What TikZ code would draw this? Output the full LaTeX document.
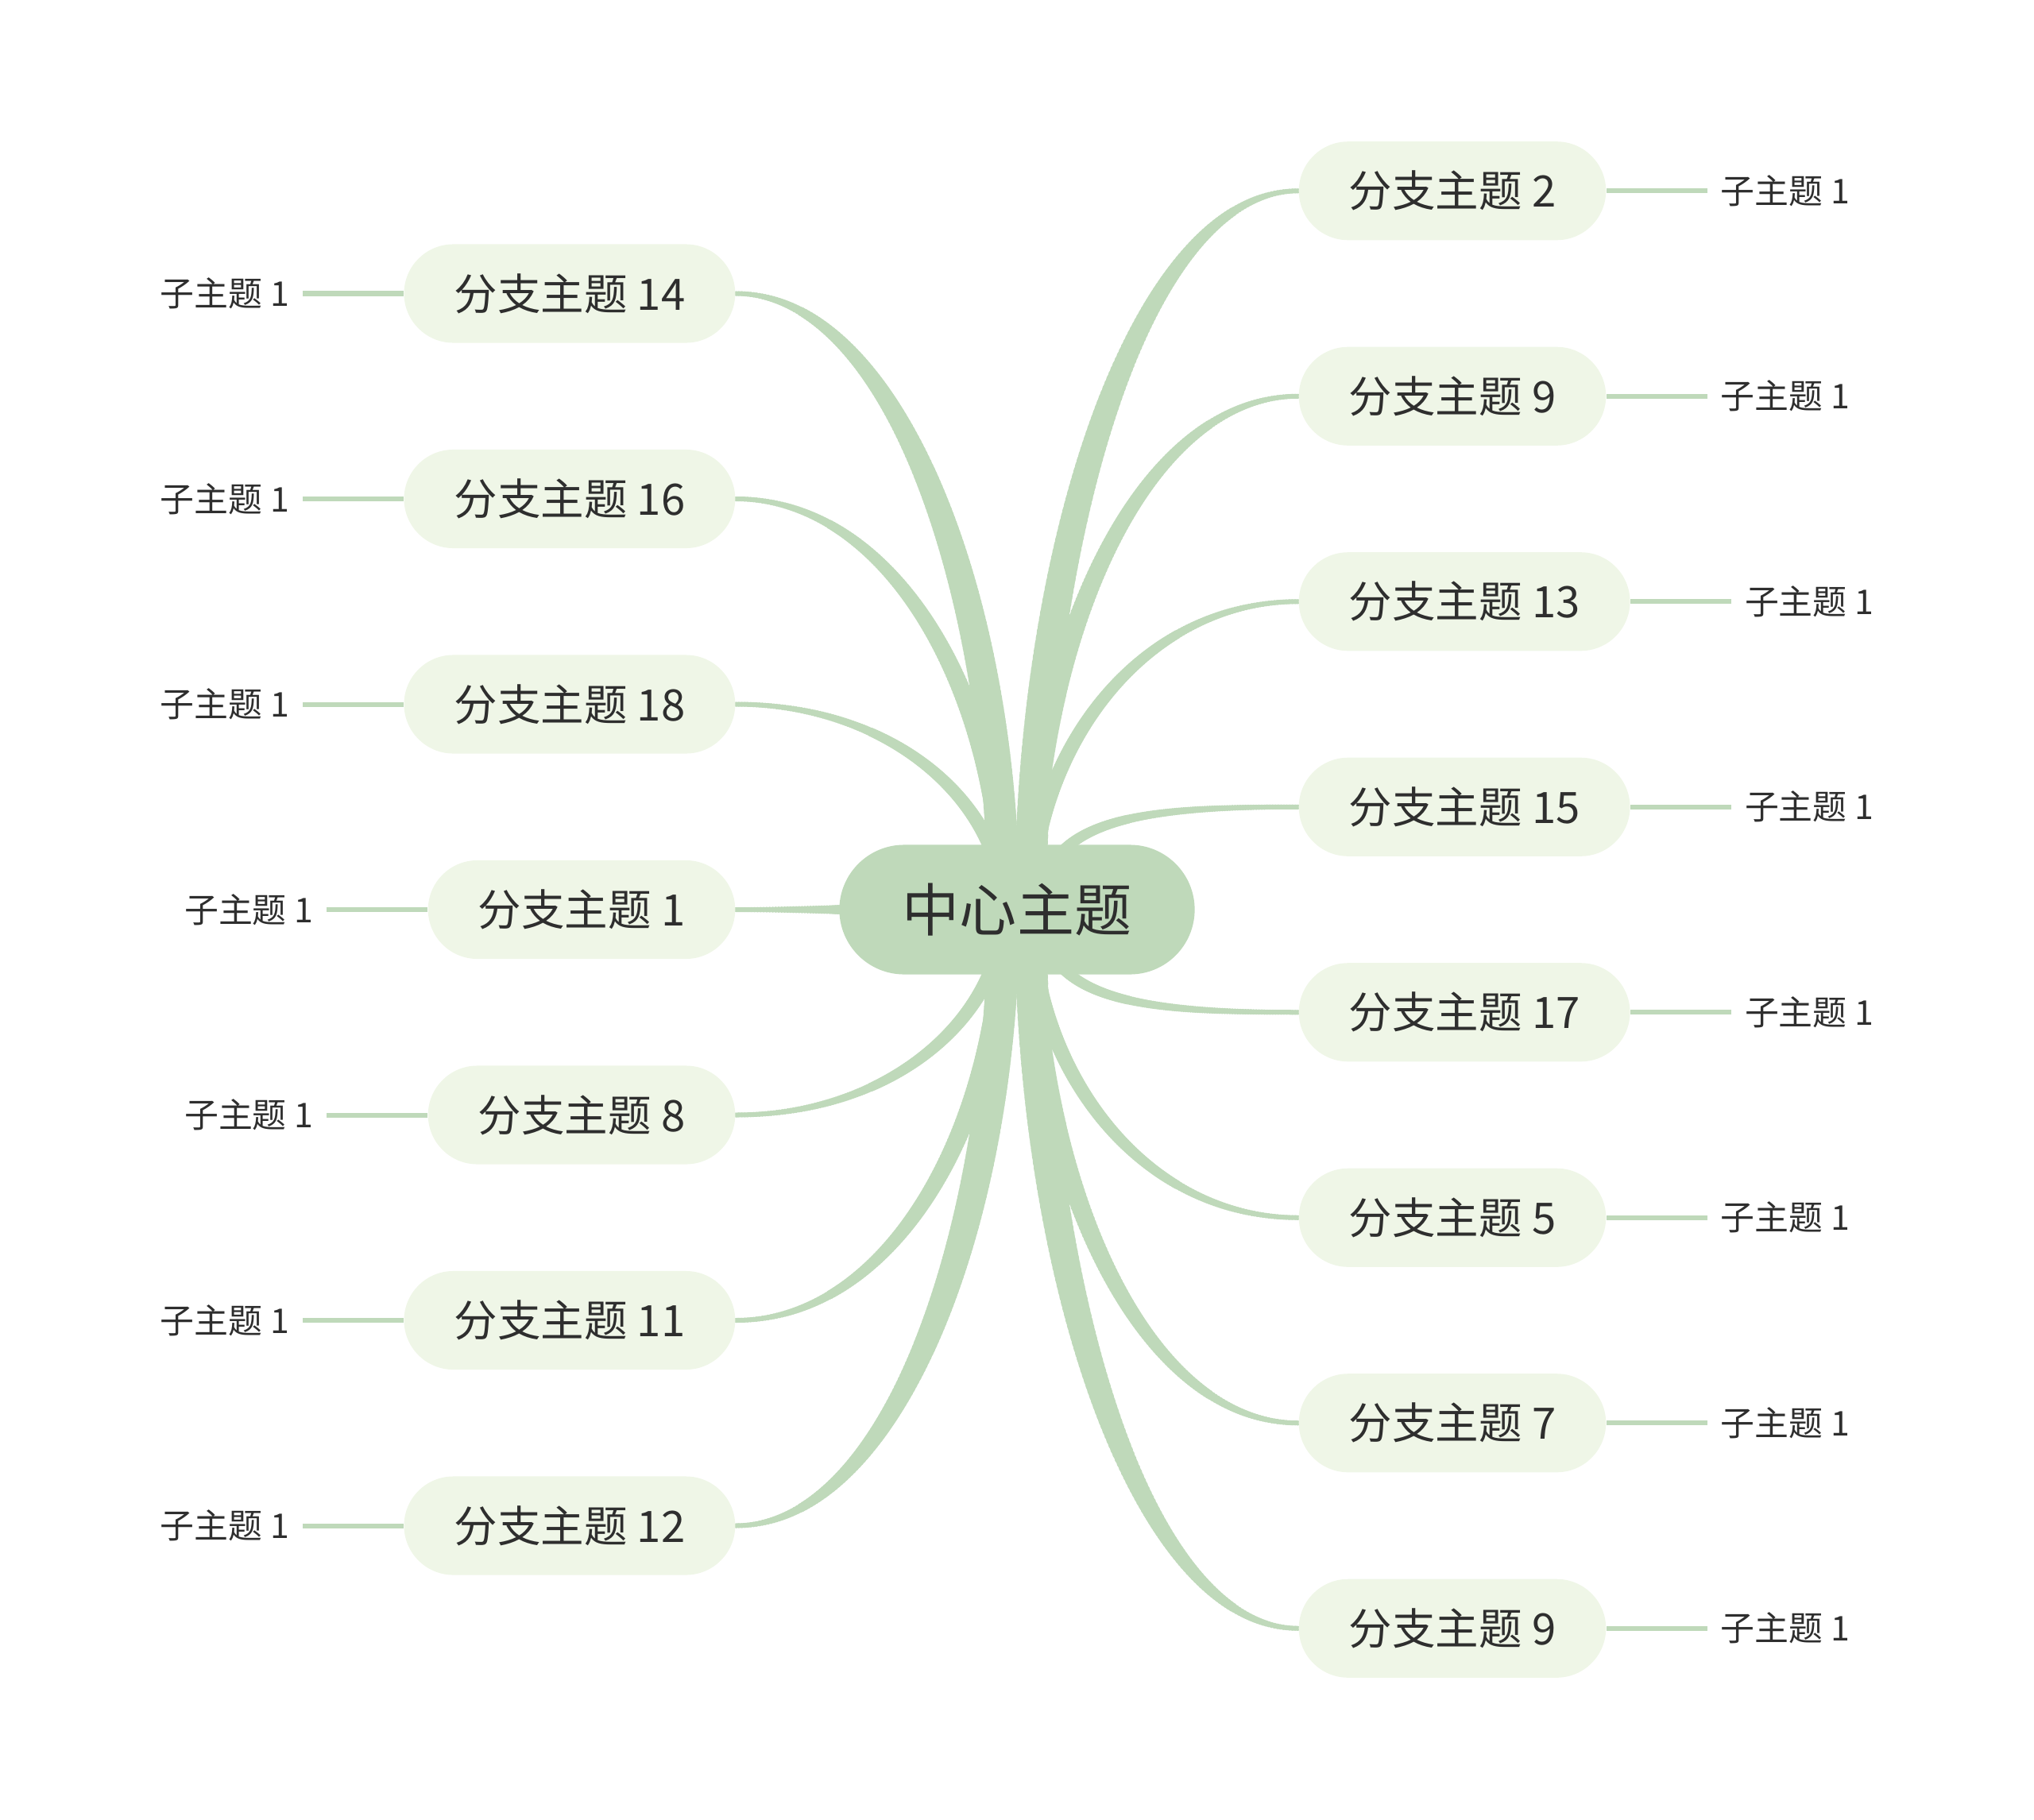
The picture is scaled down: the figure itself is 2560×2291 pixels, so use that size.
\documentclass[tikz,border=0pt]{standalone}
\usepackage{fontspec}
\setmainfont{Noto Sans CJK SC}
\usetikzlibrary{calc}
\usetikzlibrary{positioning}
\usetikzlibrary{backgrounds}

\definecolor{sage}{HTML}{BFD9BA}
\definecolor{mint}{HTML}{EFF6E7}
\definecolor{ink}{HTML}{2E2E2E}

% tapered branch: root, end, bend, extra width at the root
\newcommand{\twig}[4]{%
    \coordinate (tr) at (#1);
    \coordinate (te) at (#2);
    \coordinate (tk) at (tr |- te);
    \coordinate (ta) at ($(tr)!#3!(tk)$);
    \coordinate (tb) at ($(te)!0.6!(tk)$);
    \draw[leaf] (tr) .. controls (ta) and (tb) .. (te);
    \path (tr) .. controls (ta) and (tb) .. (te)
        foreach \i [evaluate=\i as \t using \i/160,
                    evaluate=\i as \d using (6+#4*(1-(\i/160)^2)^1.4)*0.2845] in {0,...,160}
        {node[twig, pos=\t, minimum size=\d pt] {}};
}

\begin{document}
\begin{tikzpicture}[x=0.01cm, y=-0.01cm,
    hub/.style={fill=sage, rounded corners=0.815cm, minimum height=1.63cm, minimum width=4.47cm,
        text=ink, font=\fontsize{20.5}{24}\selectfont},
    branch/.style={fill=mint, rounded corners=0.62cm, minimum height=1.24cm, inner xsep=0.63cm,
        text=ink, font=\fontsize{15.5}{18}\selectfont},
    sub/.style={inner xsep=0.16cm, text=ink, font=\fontsize{12.2}{14}\selectfont},
    twig/.style={circle, fill=sage, inner sep=0pt, outer sep=0pt},
    leaf/.style={draw=sage, line width=0.06cm}]
    \useasboundingbox (0,0) rectangle (2560,2291);

    \node[hub] (c) at (1280,1145) {中心主题};

    % left side
    \node[branch, anchor=east] (b14) at (926,369.5) {分支主题 14};
    \node[branch, anchor=east] (b16) at (926,628) {分支主题 16};
    \node[branch, anchor=east] (b18) at (926,886.5) {分支主题 18};
    \node[branch, anchor=east] (b1) at (926,1145) {分支主题 1};
    \node[branch, anchor=east] (b8) at (926,1403.5) {分支主题 8};
    \node[branch, anchor=east] (b11) at (926,1662) {分支主题 11};
    \node[branch, anchor=east] (b12) at (926,1920.5) {分支主题 12};

    % right side
    \node[branch, anchor=west] (b2) at (1634,240.25) {分支主题 2};
    \node[branch, anchor=west] (b9a) at (1634,498.75) {分支主题 9};
    \node[branch, anchor=west] (b13) at (1634,757.25) {分支主题 13};
    \node[branch, anchor=west] (b15) at (1634,1015.75) {分支主题 15};
    \node[branch, anchor=west] (b17) at (1634,1274.25) {分支主题 17};
    \node[branch, anchor=west] (b5) at (1634,1532.75) {分支主题 5};
    \node[branch, anchor=west] (b7) at (1634,1791.25) {分支主题 7};
    \node[branch, anchor=west] (b9b) at (1634,2049.75) {分支主题 9};

    \node[sub, left=1.27cm of b14] (s14) {子主题 1};
    \node[sub, left=1.27cm of b16] (s16) {子主题 1};
    \node[sub, left=1.27cm of b18] (s18) {子主题 1};
    \node[sub, left=1.27cm of b1] (s1) {子主题 1};
    \node[sub, left=1.27cm of b8] (s8) {子主题 1};
    \node[sub, left=1.27cm of b11] (s11) {子主题 1};
    \node[sub, left=1.27cm of b12] (s12) {子主题 1};
    \node[sub, right=1.27cm of b2] (s2) {子主题 1};
    \node[sub, right=1.27cm of b9a] (s9a) {子主题 1};
    \node[sub, right=1.27cm of b13] (s13) {子主题 1};
    \node[sub, right=1.27cm of b15] (s15) {子主题 1};
    \node[sub, right=1.27cm of b17] (s17) {子主题 1};
    \node[sub, right=1.27cm of b5] (s5) {子主题 1};
    \node[sub, right=1.27cm of b7] (s7) {子主题 1};
    \node[sub, right=1.27cm of b9b] (s9b) {子主题 1};

    \begin{scope}[on background layer]
        \twig{$(c)+(-17,0)$}{b14.east}{0.5}{35}
        \twig{$(c)+(-17,0)$}{b16.east}{0.5}{21}
        \twig{$(c)+(-17,0)$}{b18.east}{0.5}{13}
        \twig{c}{b1.east}{0}{22}
        \twig{$(c)+(-17,0)$}{b8.east}{0.5}{13}
        \twig{$(c)+(-17,0)$}{b11.east}{0.5}{21}
        \twig{$(c)+(-17,0)$}{b12.east}{0.5}{35}

        \twig{$(c)+(17,0)$}{b2.west}{0.5}{35}
        \twig{$(c)+(17,0)$}{b9a.west}{0.5}{23}
        \twig{$(c)+(17,0)$}{b13.west}{0.5}{15}
        \twig{$(c)+(30,0)$}{b15.west}{0.9}{9}
        \twig{$(c)+(30,0)$}{b17.west}{0.9}{9}
        \twig{$(c)+(17,0)$}{b5.west}{0.5}{15}
        \twig{$(c)+(17,0)$}{b7.west}{0.5}{23}
        \twig{$(c)+(17,0)$}{b9b.west}{0.5}{35}

        \draw[leaf] (b14.west) -- (s14.east);
        \draw[leaf] (b16.west) -- (s16.east);
        \draw[leaf] (b18.west) -- (s18.east);
        \draw[leaf] (b1.west) -- (s1.east);
        \draw[leaf] (b8.west) -- (s8.east);
        \draw[leaf] (b11.west) -- (s11.east);
        \draw[leaf] (b12.west) -- (s12.east);
        \draw[leaf] (b2.east) -- (s2.west);
        \draw[leaf] (b9a.east) -- (s9a.west);
        \draw[leaf] (b13.east) -- (s13.west);
        \draw[leaf] (b15.east) -- (s15.west);
        \draw[leaf] (b17.east) -- (s17.west);
        \draw[leaf] (b5.east) -- (s5.west);
        \draw[leaf] (b7.east) -- (s7.west);
        \draw[leaf] (b9b.east) -- (s9b.west);
    \end{scope}
\end{tikzpicture}
\end{document}
